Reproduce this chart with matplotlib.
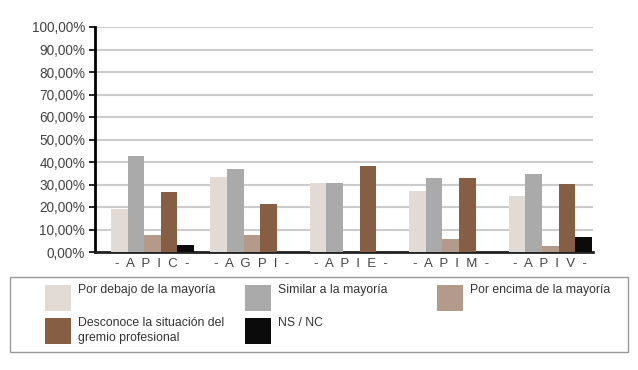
import matplotlib
matplotlib.use("Agg")
import matplotlib.pyplot as plt
from matplotlib.patches import Rectangle
from matplotlib import font_manager
import numpy as np

categories = ["-  A  P  I  C  -", "-  A  G  P  I  -", "-  A  P  I  E  -", "-  A  P  I  M  -", "-  A  P  I  V  -"]
series_names = ["Por debajo de la mayoría", "Similar a la mayoría", "Por encima de la mayoría",
                "Desconoce la situación del\ngremio profesional", "NS / NC"]
por_debajo = [19.0, 33.2, 30.5, 27.0, 24.7]
similar = [42.5, 37.0, 30.5, 33.0, 34.5]
por_encima = [7.7, 7.5, 0.0, 5.9, 2.5]
desconoce = [26.7, 21.3, 38.2, 33.0, 30.4]
ns_nc = [2.9, 0.0, 0.0, 0.0, 6.7]
yticks = [0, 10, 20, 30, 40, 50, 60, 70, 80, 90, 100]
ytick_labels = ["0,00%", "10,00%", "20,00%", "30,00%", "40,00%", "50,00%",
                "60,00%", "70,00%", "80,00%", "90,00%", "100,00%"]

colors = ["#e2dbd5", "#aaaaaa", "#b39a8b", "#855e44", "#0b0b0b"]

plt.rcParams["font.family"] = ["Liberation Sans", "DejaVu Sans"]

W, H = 638, 370
fig = plt.figure(figsize=(W / 100, H / 100), dpi=100)
ax = fig.add_axes([95 / W, 1 - 252 / H, (593 - 95) / W, (252 - 27) / H])

series = [por_debajo, similar, por_encima, desconoce, ns_nc]
x = np.arange(len(categories))
bw = 0.167
for i, (vals, c) in enumerate(zip(series, colors)):
    ax.bar(x + (i - 2) * bw, vals, width=bw, color=c, edgecolor="none", zorder=3)

ax.set_ylim(0, 100)
ax.set_xlim(-0.578, 4.43)
ax.set_yticks(yticks)
ax.set_yticklabels(ytick_labels, fontsize=9.8, color="#444444")
ax.set_xticks(x)
ax.set_xticklabels(categories, fontsize=9.5, color="#444444")
ax.tick_params(axis="x", length=0, pad=4)
ax.tick_params(axis="y", length=4, width=1.2, color="black", pad=3)
ax.yaxis.grid(True, color="#cccccc", linewidth=1.5, zorder=0)
ax.set_axisbelow(True)
for s in ["top", "right"]:
    ax.spines[s].set_visible(False)
ax.spines["left"].set_linewidth(2)
ax.spines["left"].set_color("black")
ax.spines["bottom"].set_linewidth(2)
ax.spines["bottom"].set_color("#222222")

def fx(px):
    return px / W
def fy(py):
    return 1 - py / H

fig.add_artist(Rectangle((fx(10), fy(352)), fx(628) - fx(10), fy(277) - fy(352),
                         transform=fig.transFigure, facecolor="white", edgecolor="#999999", linewidth=1))
entries = [
    (45, 285, 78, 0),
    (245, 285, 278, 1),
    (437, 285, 470, 2),
    (45, 318, 78, 3),
    (245, 318, 278, 4),
]
for sx, sy, tx, idx in entries:
    fig.add_artist(Rectangle((fx(sx), fy(sy + 26)), fx(26), 26 / H, transform=fig.transFigure,
                             facecolor=colors[idx], edgecolor="none"))
    fig.text(fx(tx), fy(sy - 1), series_names[idx], fontsize=8.8, color="#333333",
             va="top", ha="left", linespacing=1.35)

fig.savefig("out.png", dpi=100)
